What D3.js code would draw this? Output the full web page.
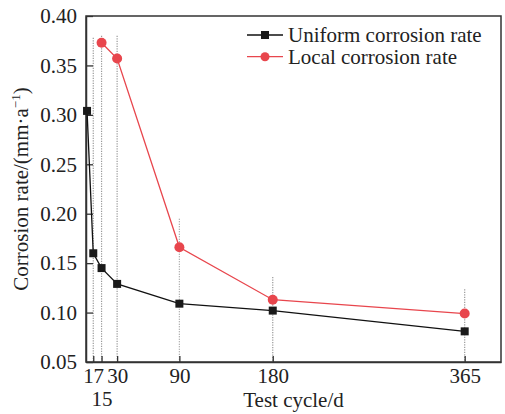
<!DOCTYPE html>
<html>
<head>
<meta charset="utf-8">
<script src="https://cdn.jsdelivr.net/npm/d3@7"></script>
<style>
  body { margin: 0; background: #fff; }
  text { font-family: "Liberation Serif", "Times New Roman", serif; fill: #222; }
</style>
</head>
<body>
<div id="chart"></div>
<script>
// data
const days = [1, 7, 15, 30, 90, 180, 365];
const uniform = [0.304, 0.160, 0.145, 0.129, 0.109, 0.102, 0.081];
const localDays = [15, 30, 90, 180, 365];
const local = [0.373, 0.357, 0.166, 0.113, 0.099];
// top of the dotted range lines (day 1 has none)
const rangeTop = [null, 0.378, 0.380, 0.380, 0.195, 0.136, 0.1235];
const yTicks = [0.05, 0.10, 0.15, 0.20, 0.25, 0.30, 0.35, 0.40];
const xTicks = [1, 7, 15, 30, 90, 180, 365];

const W = 505, H = 414;
const margin = {top: 16, right: 4, bottom: 52, left: 86};
const width = W - margin.left - margin.right,
      height = H - margin.top - margin.bottom;
const fs = 21;

const svg = d3.select("#chart").append("svg")
    .attr("width", W).attr("height", H);
const g = svg.append("g")
    .attr("transform", `translate(${margin.left},${margin.top})`);

const x = d3.scaleLinear().domain([0, 400]).range([0, width]);
const y = d3.scaleLinear().domain([0.05, 0.40]).range([height, 0]);

// dotted range lines
g.selectAll(".range")
  .data(days.map((d, i) => ({d, top: rangeTop[i]})).filter(o => o.top != null))
  .join("line")
    .attr("x1", o => x(o.d)).attr("x2", o => x(o.d))
    .attr("y1", o => y(o.top)).attr("y2", height)
    .attr("stroke", "#999").attr("stroke-width", 1.2)
    .attr("stroke-dasharray", "1.2,1.3");

// axes with inward ticks
const yAxis = g.append("g")
  .call(d3.axisLeft(y).tickValues(yTicks).tickFormat(d3.format(".2f"))
        .tickSizeInner(-7).tickSizeOuter(0).tickPadding(9));
yAxis.selectAll("text").attr("font-size", fs).attr("font-family", "Liberation Serif");

const xAxis = g.append("g")
  .attr("transform", `translate(0,${height})`)
  .call(d3.axisBottom(x).tickValues(xTicks).tickFormat(d3.format("d"))
        .tickSizeInner(-6).tickSizeOuter(0).tickPadding(6));
xAxis.selectAll("text").attr("font-size", fs).attr("font-family", "Liberation Serif")
  .attr("dx", d => d === 7 ? 5 : (d === 1 ? 1 : 0))
  .attr("dy", d => d === 15 ? "1.83em" : "0.71em");
xAxis.selectAll(".tick line").filter(d => d === 1).remove();
svg.selectAll(".domain").attr("stroke", "#333").attr("stroke-width", 1.5);
svg.selectAll(".tick line").attr("stroke", "#333").attr("stroke-width", 1.3);

// frame
g.append("rect")
  .attr("width", width).attr("height", height)
  .attr("fill", "none").attr("stroke", "#333").attr("stroke-width", 1.5);

// series
const uData = days.map((d, i) => [d, uniform[i]]);
const lData = localDays.map((d, i) => [d, local[i]]);
const line = d3.line().x(p => x(p[0])).y(p => y(p[1]));

g.append("path").datum(uData).attr("d", line)
  .attr("fill", "none").attr("stroke", "#111").attr("stroke-width", 1.3);
g.append("path").datum(lData).attr("d", line)
  .attr("fill", "none").attr("stroke", "#e8464d").attr("stroke-width", 1.3);

g.selectAll(".sq").data(uData).join("rect")
  .attr("x", p => x(p[0]) - 4).attr("y", p => y(p[1]) - 4)
  .attr("width", 8).attr("height", 8).attr("fill", "#1a1a1a");
g.selectAll(".ci").data(lData).join("circle")
  .attr("cx", p => x(p[0])).attr("cy", p => y(p[1]))
  .attr("r", 5).attr("fill", "#e8464d");

// legend
const legend = svg.append("g").attr("transform", "translate(247,35)");
const items = [
  {label: "Uniform corrosion rate", color: "#111", shape: "square"},
  {label: "Local corrosion rate", color: "#e8464d", shape: "circle"}
];
items.forEach((it, i) => {
  const row = legend.append("g").attr("transform", `translate(0,${i * 21.7})`);
  row.append("line").attr("x1", 0).attr("x2", 36)
    .attr("stroke", it.color).attr("stroke-width", 1.3);
  if (it.shape === "square")
    row.append("rect").attr("x", 14).attr("y", -4).attr("width", 8).attr("height", 8).attr("fill", "#1a1a1a");
  else
    row.append("circle").attr("cx", 18).attr("r", 4.5).attr("fill", it.color);
  row.append("text").attr("x", 41).attr("y", 7).attr("font-size", fs).text(it.label);
});

// axis titles
svg.append("text")
  .attr("x", margin.left + width / 2).attr("y", 407)
  .attr("text-anchor", "middle").attr("font-size", fs)
  .text("Test cycle/d");

const yt = svg.append("text")
  .attr("transform", `translate(28,${margin.top + height / 2}) rotate(-90)`)
  .attr("text-anchor", "middle").attr("font-size", fs);
yt.append("tspan").text("Corrosion rate/(mm·a");
yt.append("tspan").attr("dy", -8).attr("font-size", 13).text("−1");
yt.append("tspan").attr("dy", 8).text(")");
</script>
</body>
</html>
